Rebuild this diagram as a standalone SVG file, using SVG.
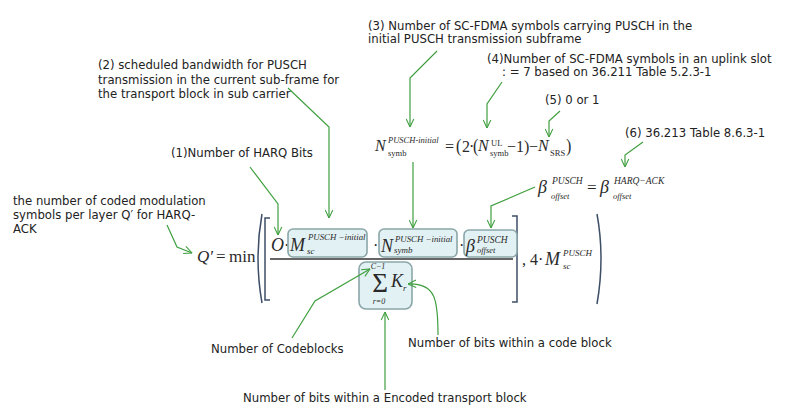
<svg xmlns="http://www.w3.org/2000/svg" width="812" height="411" viewBox="0 0 812 411">
<style>
.lbl{font-family:"DejaVu Sans",Verdana,sans-serif;font-size:11.7px;fill:#222}
.m{font-family:"Liberation Serif","Times New Roman",serif;fill:#2a2a2a}
.i{font-style:italic}
.box{fill:#e2f1f3;stroke:#8aa6a8;stroke-width:1.6}
.con{fill:none;stroke:#3f9f3f;stroke-width:1.2}
.br{fill:none;stroke:#3c4f66;stroke-width:1.5}
</style>
<defs>
<marker id="ah" viewBox="0 0 10 10" refX="9.5" refY="5" markerWidth="9" markerHeight="9" markerUnits="userSpaceOnUse" orient="auto">
<path d="M0.5,0.8 L9.5,5 L0.5,9.2" fill="none" stroke="#3f9f3f" stroke-width="1.2"/>
</marker>
</defs>
<rect width="812" height="411" fill="#fff"/>

<g id="label-q">
<text class="lbl" x="13" y="205">the number of coded modulation</text>
<text class="lbl" x="13" y="219">symbols per layer Q′ for HARQ-</text>
<text class="lbl" x="13" y="233">ACK</text>
</g>
<g id="label-1"><text class="lbl" x="171" y="157">(1)Number of HARQ Bits</text></g>
<g id="label-2">
<text class="lbl" x="98" y="69">(2) scheduled bandwidth for PUSCH</text>
<text class="lbl" x="98" y="84">transmission in the current sub-frame for</text>
<text class="lbl" x="98" y="98">the transport block in sub carrier</text>
</g>
<g id="label-3">
<text class="lbl" x="368" y="30">(3) Number of SC-FDMA symbols carrying PUSCH in the</text>
<text class="lbl" x="368" y="43">initial PUSCH transmission subframe</text>
</g>
<g id="label-4">
<text class="lbl" x="487" y="63">(4)Number of SC-FDMA symbols in an uplink slot</text>
<text class="lbl" x="502" y="76">: = 7 based on 36.211 Table 5.2.3-1</text>
</g>
<g id="label-5"><text class="lbl" x="545" y="104">(5) 0 or 1</text></g>
<g id="label-6"><text class="lbl" x="625" y="137">(6) 36.213 Table 8.6.3-1</text></g>
<g id="label-cb"><text class="lbl" x="211" y="353">Number of Codeblocks</text></g>
<g id="label-kr"><text class="lbl" x="408" y="347">Number of bits within a code block</text></g>
<g id="label-tb"><text class="lbl" x="243" y="402">Number of bits within a Encoded transport block</text></g>

<g id="formula-nsymb">
<text class="m i" x="375" y="151" font-size="16">N</text>
<text class="m i" x="388" y="143" font-size="8.5">PUSCH-initial</text>
<text class="m" x="388" y="156" font-size="8.5">symb</text>
<text class="m" x="445" y="152" font-size="16">=</text>
<text class="m" x="456" y="152" font-size="16" transform="translate(456 152) scale(1 1.2) translate(-456 -152)">(</text>
<text class="m" x="462" y="152" font-size="16">2</text>
<text class="m" x="469" y="152" font-size="16">·</text>
<text class="m" x="473" y="152" font-size="16" transform="translate(473 152) scale(1 1.15) translate(-473 -152)">(</text>
<text class="m i" x="478" y="151" font-size="16">N</text>
<text class="m" x="491" y="146" font-size="8.5">UL</text>
<text class="m" x="490" y="156" font-size="8.5">symb</text>
<text class="m" x="507" y="152" font-size="16">−1)</text>
<text class="m" x="529" y="152" font-size="16">−</text>
<text class="m i" x="538" y="151" font-size="16">N</text>
<text class="m" x="550" y="156" font-size="8.5">SRS</text>
<text class="m" x="566" y="152" font-size="16" transform="translate(566 152) scale(1 1.2) translate(-566 -152)">)</text>
</g>

<g id="formula-beta">
<text class="m i" x="538" y="193" font-size="18">β</text>
<text class="m i" x="552" y="184" font-size="9.5">PUSCH</text>
<text class="m i" x="551" y="199" font-size="8.5">offset</text>
<text class="m" x="587" y="193" font-size="17">=</text>
<text class="m i" x="600" y="193" font-size="18">β</text>
<text class="m i" x="614" y="184" font-size="9.5">HARQ−ACK</text>
<text class="m i" x="613" y="199" font-size="8.5">offset</text>
</g>

<g id="formula-q">
<text class="m i" x="197" y="262" font-size="17">Q′</text>
<text class="m" x="216" y="262" font-size="17">=</text>
<text class="m" x="229" y="262" font-size="17">min</text>
<path class="br" d="M262,214 Q254,258 262,303"/>
<path class="br" d="M270,218 L265,218 L265,300 L270,300"/>
<path class="br" d="M512,216 L517,216 L517,302 L512,302"/>
<path class="br" d="M597,214 Q605,258 597,304"/>
<line x1="270" y1="259" x2="513" y2="259" stroke="#333" stroke-width="1.3"/>
<text class="m i" x="271" y="251" font-size="18">O</text>
<text class="m" x="284" y="251" font-size="16">·</text>
<text class="m" x="373" y="251" font-size="16">·</text>
<text class="m" x="459" y="251" font-size="16">·</text>
<text class="m" x="522" y="265" font-size="16">, 4·</text>
<text class="m i" x="545" y="265" font-size="18">M</text>
<text class="m i" x="563" y="256" font-size="9">PUSCH</text>
<text class="m i" x="563" y="269" font-size="9">sc</text>
</g>

<g id="node-m">
<rect class="box" x="288" y="229" width="79" height="28" rx="5"/>
<text class="m i" x="290" y="251" font-size="18">M</text>
<text class="m i" x="308" y="240" font-size="8.8">PUSCH −initial</text>
<text class="m i" x="307" y="254" font-size="9">sc</text>
</g>
<g id="node-n">
<rect class="box" x="379" y="229" width="78" height="28" rx="5"/>
<text class="m i" x="381" y="252" font-size="18">N</text>
<text class="m i" x="395" y="242" font-size="8.8">PUSCH −initial</text>
<text class="m i" x="394" y="253" font-size="9">symb</text>
</g>
<g id="node-beta">
<rect class="box" x="464" y="230" width="53" height="27" rx="5"/>
<text class="m i" x="466" y="252" font-size="18">β</text>
<text class="m i" x="477" y="243" font-size="9.5">PUSCH</text>
<text class="m i" x="477" y="253" font-size="8.5">offset</text>
</g>
<g id="node-sum">
<rect class="box" x="359" y="262" width="53" height="47" rx="7"/>
<text class="m i" x="378" y="268.5" font-size="8" text-anchor="middle">C−1</text>
<text class="m" x="380" y="292" font-size="27" text-anchor="middle">Σ</text>
<text class="m i" x="379" y="304" font-size="8" text-anchor="middle">r=0</text>
<text class="m i" x="391" y="287" font-size="18">K</text>
<text class="m i" x="403" y="291" font-size="9">r</text>
</g>

<g id="connectors">
<path class="con" marker-end="url(#ah)" d="M250,167 L278,204 L278,235"/>
<path class="con" marker-end="url(#ah)" d="M288,88 L329,127 L329,218"/>
<path class="con" marker-end="url(#ah)" d="M437,51 L410,78 L410,127"/>
<path class="con" marker-end="url(#ah)" d="M413,162 L413,228"/>
<path class="con" marker-end="url(#ah)" d="M502,82 L487,104 L487,128"/>
<path class="con" marker-end="url(#ah)" d="M560,111 L549,121 L549,137"/>
<path class="con" marker-end="url(#ah)" d="M643,142 L625,155 L625,167"/>
<path class="con" marker-end="url(#ah)" d="M535,187 L491,206 L491,228"/>
<path class="con" marker-end="url(#ah)" d="M167,225 L177,247 L192,253"/>
<path class="con" marker-end="url(#ah)" d="M292,338 L315,301 L370,269"/>
<path class="con" marker-end="url(#ah)" d="M438,335 C438,300 436,283 408,284"/>
<path class="con" marker-end="url(#ah)" d="M385,390 L385,312"/>
</g>
</svg>
